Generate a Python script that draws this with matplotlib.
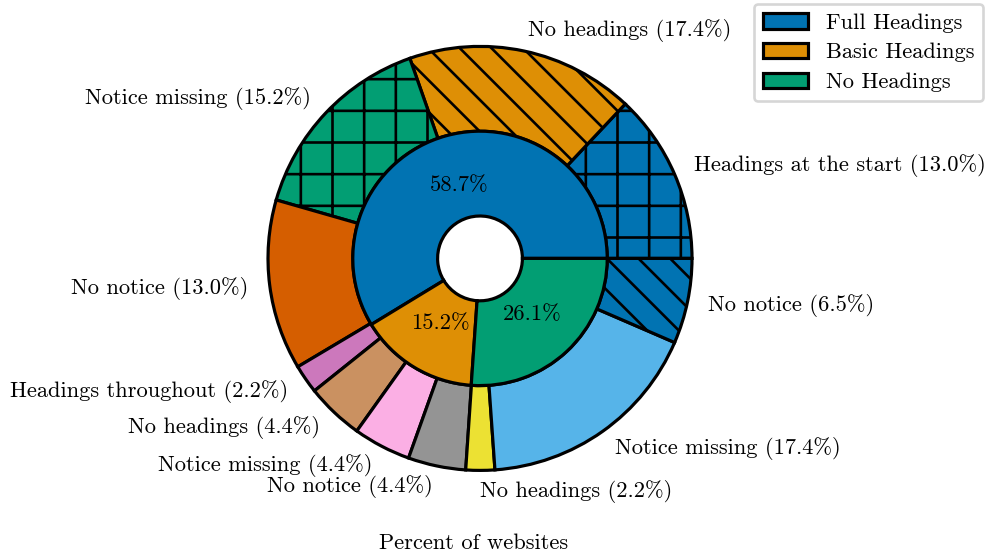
import matplotlib
matplotlib.use("Agg")
import matplotlib.pyplot as plt
import seaborn as sns

plt.rcParams['font.family'] = 'serif'
plt.rcParams['font.serif'] = ['cmr10']
plt.rcParams['mathtext.fontset'] = 'cm'
plt.rcParams['axes.formatter.use_mathtext'] = True

# donnees
groupes = ['Full Headings', 'Basic Headings', 'No Headings']
groupes_pct = [58.7, 15.2, 26.1]

sous_labels = ['Headings at the start', 'No headings', 'Notice missing', 'No notice',
               'Headings throughout', 'No headings', 'Notice missing', 'No notice',
               'No headings', 'Notice missing', 'No notice']
sous_pct = [13.0, 17.4, 15.2, 13.0,
            2.2, 4.4, 4.4, 4.4,
            2.2, 17.4, 6.5]
sous_hatch = ['+', '\\\\', '+', '', '', '', '', '', '', '', '\\\\']

couleurs = sns.color_palette('colorblind', 10)
couleurs_ext = [couleurs[i % 10] for i in range(len(sous_pct))]

FS = 8.5
DPI = 190
W, H = 986, 557
fig = plt.figure(figsize=(W / DPI, H / DPI), dpi=DPI)

# placement : centre (480, 258) px, rayon 212 px
R = 212.0
cx, cy = 480.0, 258.4
bas = 33.0
ax = fig.add_axes([0, bas / H, 1, (H - bas) / H])

etiquettes = ['%s (%.1f%%)' % (l, p) for l, p in zip(sous_labels, sous_pct)]

# anneau exterieur : sous-categories
ext, txt = ax.pie(sous_pct, radius=1.0, labels=etiquettes, colors=couleurs_ext,
                  startangle=0, counterclock=True, labeldistance=1.1,
                  wedgeprops=dict(width=0.4, edgecolor='black', linewidth=1.2),
                  textprops=dict(fontsize=FS))
for w, h in zip(ext, sous_hatch):
    if h:
        w.set_hatch(h)

# anneau interieur : groupes
inn, txt2, pct = ax.pie(groupes_pct, radius=0.6, colors=couleurs[:3],
                        startangle=0, counterclock=True, autopct='%.1f%%',
                        pctdistance=0.6,
                        wedgeprops=dict(width=0.4, edgecolor='black', linewidth=1.2),
                        textprops=dict(fontsize=FS))

ax.set_xlim(-cx / R, (W - cx) / R)
ax.set_ylim(-(H - bas - cy) / R, cy / R)
ax.set_aspect('auto')

ax.legend(inn, groupes, loc='upper right', fontsize=FS, borderaxespad=0,
          bbox_to_anchor=(983 / W, 1 - 4 / (H - bas)), labelspacing=0.45)
ax.set_xlabel('Percent of websites', fontsize=FS)
ax.xaxis.set_label_coords(474 / W, -(533 - (H - bas)) / (H - bas))

fig.savefig('out.png', dpi=DPI)
